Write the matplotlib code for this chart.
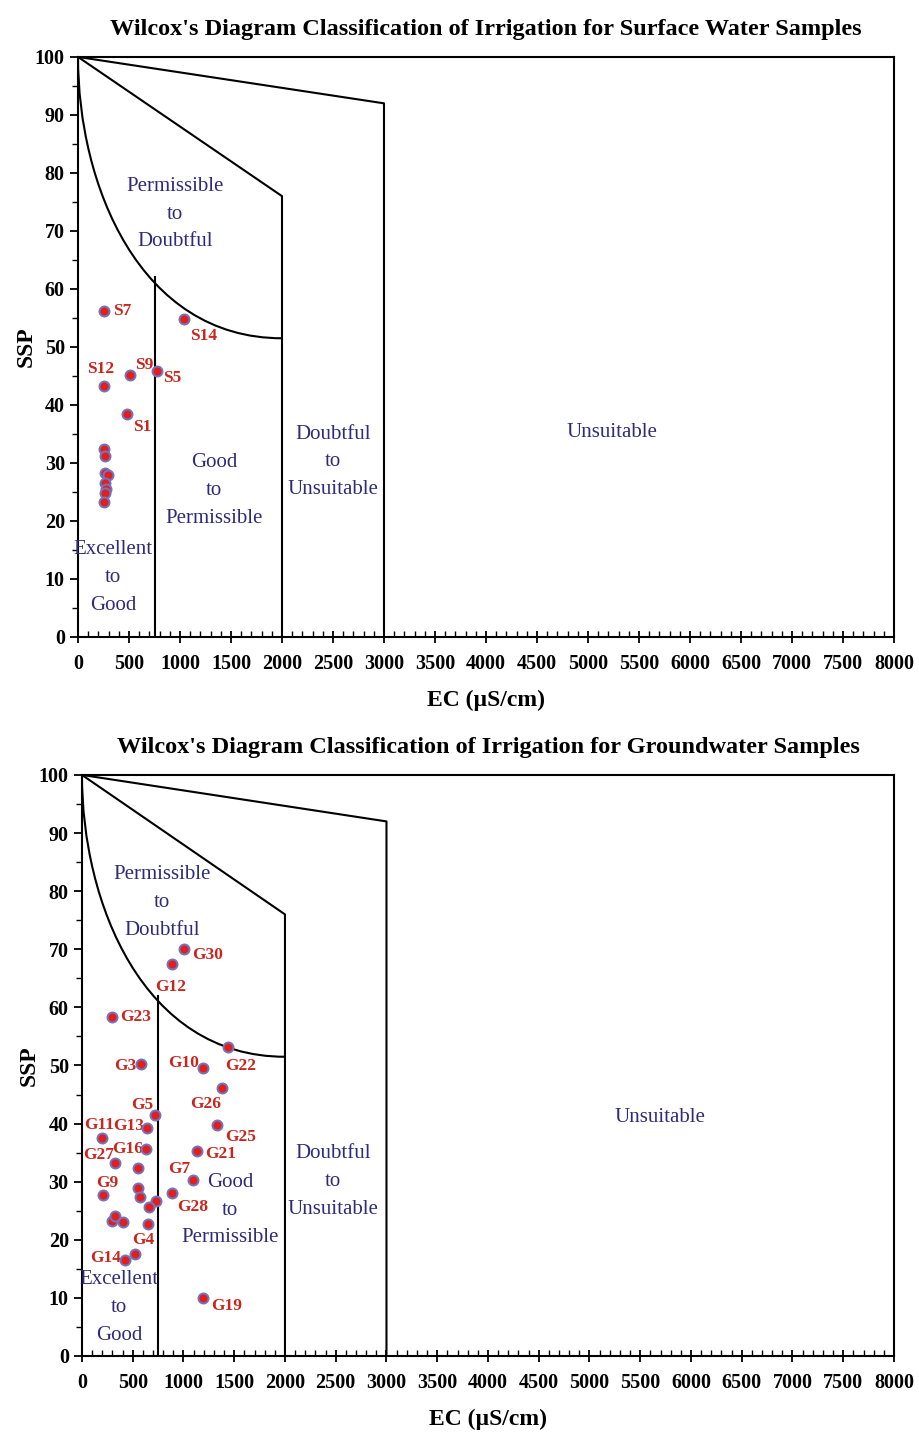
import matplotlib
matplotlib.use('Agg')
import matplotlib.pyplot as plt
from matplotlib.path import Path
from matplotlib.patches import PathPatch
from matplotlib.ticker import MultipleLocator

plt.rcParams['font.family'] = ['Liberation Serif', 'DejaVu Serif']

# surface water samples
s_names = ['S7', 'S14', 'S12', 'S9', 'S5', 'S1', '', '', '', '', '', '', '', '']
s_ec = [258, 1039, 258, 510, 771, 484, 255, 262, 268, 291, 262, 270, 268, 258]
s_ssp = [56.2, 54.8, 43.3, 45.2, 45.9, 38.4, 32.4, 31.2, 28.3, 27.9, 26.6, 25.5, 24.8, 23.3]

# groundwater samples
g_names = ['G30', 'G12', 'G23', 'G22', 'G3', 'G10', 'G26', 'G5', 'G13', 'G25',
           'G11', 'G16', 'G21', 'G27', '', 'G7', 'G9', '', '', 'G28',
           '', '', '', '', '', '', 'G4', 'G14', 'G19']
g_ec = [1005, 884, 292, 1442, 578, 1189, 1383, 719, 637, 1333,
        194, 627, 1130, 325, 555, 1090, 204, 555, 571, 890,
        726, 663, 292, 325, 401, 653, 522, 424, 1195]
g_ssp = [70.0, 67.5, 58.4, 53.2, 50.2, 49.5, 46.2, 41.5, 39.3, 39.8,
         37.6, 35.6, 35.2, 33.2, 32.3, 30.3, 27.7, 28.9, 27.4, 28.0,
         26.6, 25.6, 23.2, 24.1, 23.0, 22.7, 17.5, 16.6, 10.0]

# label offsets in points
s_off = {'S7': (13, 0), 'S14': (14, -12), 'S12': (-3, 12), 'S9': (10, 7),
         'S5': (11, -5), 'S1': (11, -9)}
g_off = {'G30': (17, -4), 'G12': (-1, -17), 'G23': (17, 0), 'G22': (9, -14),
         'G3': (-11, -1), 'G10': (-14, 4), 'G26': (-12, -12), 'G5': (-9, 7),
         'G13': (-13, 1), 'G25': (17, -9), 'G11': (-2, 9), 'G16': (-13, 0),
         'G21': (17, -2), 'G27': (-12, 6), 'G7': (-10, 8), 'G9': (3, 9),
         'G28': (15, -10), 'G4': (6, 10), 'G14': (-14, 1), 'G19': (17, -6)}

# Wilcox diagram boundaries
top_line_ec = [0, 3000, 3000]
top_line_ssp = [100, 92, 0]
mid_line_ec = [0, 2000, 2000]
mid_line_ssp = [100, 76, 0]
curve_ec = [0, 0, 600, 2000]
curve_ssp = [100, 78, 51.5, 51.5]
good_ec = 750
good_top = 62

regions = ['Permissible\nto\nDoubtful', 'Good\nto\nPermissible',
           'Doubtful\nto\nUnsuitable', 'Unsuitable', 'Excellent\nto\nGood']

TXT = '#2E2B7A'
RED = '#C9261D'
LINE_STEP = 20  # points between region text lines


def draw_panel(ax, title, names, ec, ssp, offsets, region_pos):
    ax.plot(top_line_ec, top_line_ssp, color='black', lw=1.5)
    ax.plot(mid_line_ec, mid_line_ssp, color='black', lw=1.5)
    ax.plot([good_ec, good_ec], [0, good_top], color='black', lw=1.5)
    verts = list(zip(curve_ec, curve_ssp))
    codes = [Path.MOVETO, Path.CURVE4, Path.CURVE4, Path.CURVE4]
    ax.add_patch(PathPatch(Path(verts, codes), fill=False, lw=1.5, ec='black'))

    # one text per line so the labels stay tight
    for txt, (x, y) in zip(regions, region_pos):
        lines = txt.split('\n')
        mid = (len(lines) - 1) / 2
        for i, line in enumerate(lines):
            ax.annotate(line, (x, y), xytext=(0, (mid - i) * LINE_STEP),
                        textcoords='offset points', ha='center', va='center',
                        color=TXT, fontsize=15)

    ax.scatter(ec, ssp, s=52, c='#E41E1C', edgecolors='#6F76C2',
               linewidths=1.4, zorder=5)
    for n, x, y in zip(names, ec, ssp):
        if n:
            ax.annotate(n, (x, y), xytext=offsets[n], textcoords='offset points',
                        ha='center', va='center', color=RED, fontsize=12.5,
                        fontweight='bold')

    ax.set_xlim(0, 8000)
    ax.set_ylim(0, 100)
    ax.xaxis.set_major_locator(MultipleLocator(500))
    ax.xaxis.set_minor_locator(MultipleLocator(100))
    ax.yaxis.set_major_locator(MultipleLocator(10))
    ax.yaxis.set_minor_locator(MultipleLocator(5))
    ax.tick_params(axis='x', which='major', direction='inout', length=9, width=1.3,
                   labelsize=14.5, pad=8)
    ax.tick_params(axis='x', which='minor', direction='in', length=4, width=1)
    ax.tick_params(axis='y', which='major', direction='out', length=6, width=1.3,
                   labelsize=14.5)
    ax.tick_params(axis='y', which='minor', direction='out', length=4, width=1)
    for lab in ax.get_xticklabels() + ax.get_yticklabels():
        lab.set_fontweight('bold')
    for sp in ax.spines.values():
        sp.set_linewidth(1.5)
    ax.set_xlabel('EC (\u00b5S/cm)', fontsize=17, fontweight='bold', labelpad=11)
    ax.set_ylabel('SSP', fontsize=17, fontweight='bold', labelpad=-1)
    ax.set_title(title, fontsize=17.5, fontweight='bold', pad=16)


fig = plt.figure(figsize=(9.2, 14.34), dpi=100)
ax1 = fig.add_axes([0.0848, 0.5558, 0.8869, 0.4045])
ax2 = fig.add_axes([0.0891, 0.0544, 0.8826, 0.4052])

draw_panel(ax1, "Wilcox's Diagram Classification of Irrigation for Surface Water Samples",
           s_names, s_ec, s_ssp, s_off,
           [(950, 72.9), (1333, 25.3), (2500, 30.2), (5235, 35.2), (343, 10.3)])
draw_panel(ax2, "Wilcox's Diagram Classification of Irrigation for Groundwater Samples",
           g_names, g_ec, g_ssp, g_off,
           [(788, 78.0), (1458, 25.1), (2473, 30.0), (5695, 41.0), (365, 8.3)])

fig.savefig('out.png', dpi=100)
